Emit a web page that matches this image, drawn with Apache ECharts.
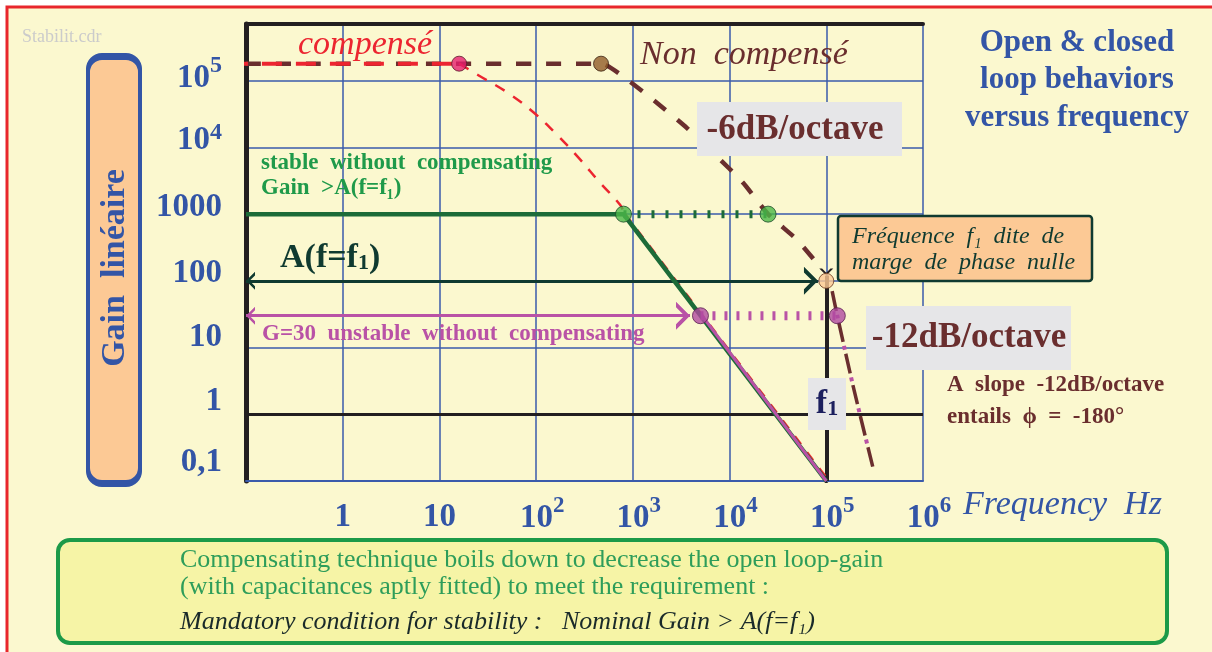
<!DOCTYPE html>
<html><head><meta charset="utf-8">
<script src="https://cdn.jsdelivr.net/npm/echarts@6/dist/echarts.min.js"></script>
<style>html,body{margin:0;padding:0;background:#fff}#c{width:1212px;height:652px}</style>
</head><body><div id="c"></div>
<script>
// ---------- data ----------
const yTickValues = [0.1, 1, 10, 100, 1000, 1e4, 1e5];
const yTickLabels = ['0,1', '1', '10', '100', '1000', '10^4', '10^5'];
const xTickValues = [1, 10, 100, 1e3, 1e4, 1e5, 1e6];
const xTickLabels = ['1', '10', '10^2', '10^3', '10^4', '10^5', '10^6'];

const compensePlateau = [[0.065, 1.8e5], [16, 1.8e5]];
const compenseRolloff = [[16, 1.8e5], [25, 1.22e5], [50, 6.7e4], [93, 3.4e4], [164, 1.55e4], [277, 6.9e3], [457, 2.96e3], [737, 1.38e3], [820, 1000]];
const compenseSlope = [[820, 1000], [1.05e5, 0.1]];
const nonCompense = [[0.1, 1.8e5], [469, 1.8e5], [830, 1.1e5], [1780, 4.64e4], [3630, 1.95e4], [7080, 7.8e3], [13800, 2.96e3], [25000, 1000], [50000, 410], [86000, 162]];
const nonCompense12 = [[1.15e5, 70], [1.3e5, 30], [1.9e5, 2.6], [3.05e5, 0.155]];
const stableGain = [[0.1, 1000], [800, 1000], [1e5, 0.1]];
const stableDotted = [[800, 1000], [25000, 1000]];
const unstableSlope = [[5200, 30], [1e5, 0.1]];
const unstableDotted = [[5000, 30], [1.3e5, 30]];
const arrowA = [[0.1, 100], [8.2e4, 100]];
const arrowG = [[0.1, 30], [3900, 30]];
const unityLine = [[0.1, 1], [1e6, 1]];
const f1Line = [[1e5, 120], [1e5, 0.1]];
const pinkDot = [[16, 1.8e5]];
const brownDot = [[469, 1.8e5]];
const greenDots = [[800, 1000], [25000, 1000]];
const magentaDots = [[5000, 30], [1.3e5, 30]];
const orangeDot = [[1e5, 100]];

// ---------- styles ----------
const SERIF = '"Liberation Serif", "DejaVu Serif", serif';
const BLUE = '#3355a6', GRID = '#3a5bab', RED = '#ec2530', BROWN = '#6a2e2e', GLINE = '#1c6b38',
  GTEXT = '#1f9a4a', MAG = '#b952a6', TEAL = '#0f3a30', BLACK = '#231f20', BG = '#fbf8cf',
  ORANGE = '#fcc995', GRAY = '#e6e6e8';
const chevUp = 'path://M0,20 L5,10 L10,20 L8,20 L5,14 L2,20 Z M5,0 L5.01,0 L5,0.01 Z';
const chevIn = 'path://M0,0 L5,10 L10,0 L8,0 L5,6 L2,0 Z M5,20 L5.01,20 L5,20.01 Z';

function lbl(arr, vals, v) {
  for (let i = 0; i < vals.length; i++) if (Math.abs(Math.log10(vals[i]) - Math.log10(v)) < 1e-6) return i;
  return -1;
}
const yShift = ['a', 'b', 'c', 'd', 'd', 'd', 'e'];

const chart = echarts.init(document.getElementById('c'));
const option = {
  backgroundColor: '#ffffff',
  animation: false,
  grid: { left: 246, top: 24, width: 677, height: 457, containLabel: false },
  xAxis: [{
    type: 'log', logBase: 10, min: 0.1, max: 1e6, position: 'bottom',
    axisLine: { show: true, lineStyle: { color: GRID, width: 2 } },
    axisTick: { show: false }, minorTick: { show: false },
    splitLine: { show: true, lineStyle: { color: GRID, width: 1.5 } },
    axisLabel: {
      margin: 14, showMinLabel: true,
      formatter: v => {
        const i = lbl(xTickLabels, xTickValues, v);
        if (i < 0) return '';
        const p = xTickLabels[i].split('^');
        return p.length > 1 ? '{bs|' + p[0] + '}{s|' + p[1] + '}' : '{b|' + p[0] + '}';
      },
      rich: {
        b: { fontFamily: SERIF, fontWeight: 'bold', fontSize: 33, color: BLUE, lineHeight: 44 },
        bs: { fontFamily: SERIF, fontWeight: 'bold', fontSize: 33, color: BLUE, lineHeight: 44, padding: [0, 0, 0, 12] },
        s: { fontFamily: SERIF, fontWeight: 'bold', fontSize: 23, color: BLUE, verticalAlign: 'top', padding: [0, 0, 24, 0] }
      }
    }
  }, {
    type: 'log', logBase: 10, min: 0.1, max: 1e6, position: 'top',
    axisLine: { show: true, lineStyle: { color: BLACK, width: 4 } },
    axisTick: { show: false }, axisLabel: { show: false }, splitLine: { show: false }
  }],
  yAxis: [{
    type: 'log', logBase: 10, min: 0.1, max: 708000,
    axisLine: { show: true, lineStyle: { color: BLACK, width: 5 } },
    axisTick: { show: false }, minorTick: { show: false },
    splitLine: { show: true, lineStyle: { color: GRID, width: 1.5 } },
    axisLabel: {
      margin: 24,
      formatter: v => {
        const i = lbl(yTickLabels, yTickValues, v);
        if (i < 0) return '';
        const p = yTickLabels[i].split('^');
        const k = yShift[i];
        return p.length > 1 ? '{' + k + '|' + p[0] + '}{s|' + p[1] + '}' : '{' + k + '|' + p[0] + '}';
      },
      rich: {
        a: { fontFamily: SERIF, fontWeight: 'bold', fontSize: 33, color: BLUE, padding: [0, 0, 38, 0] },
        b: { fontFamily: SERIF, fontWeight: 'bold', fontSize: 33, color: BLUE, padding: [0, 0, 26, 0] },
        c: { fontFamily: SERIF, fontWeight: 'bold', fontSize: 33, color: BLUE, padding: [0, 0, 20, 0] },
        d: { fontFamily: SERIF, fontWeight: 'bold', fontSize: 33, color: BLUE, padding: [0, 0, 14, 0] },
        e: { fontFamily: SERIF, fontWeight: 'bold', fontSize: 33, color: BLUE, padding: [0, 0, 4, 0] },
        s: { fontFamily: SERIF, fontWeight: 'bold', fontSize: 24, color: BLUE, verticalAlign: 'top', padding: [0, 0, 30, 0] }
      }
    }
  }],
  series: [
    { type: 'lines', coordinateSystem: 'cartesian2d', z: 3, silent: true,
      lineStyle: { color: BLACK, width: 3, opacity: 1 }, symbol: ['none', 'none'],
      data: [{ coords: unityLine }] },
    { type: 'lines', coordinateSystem: 'cartesian2d', z: 3, silent: true,
      lineStyle: { color: BLACK, width: 4, opacity: 1 }, symbol: [chevIn, chevIn], symbolSize: [14, 22],
      data: [{ coords: f1Line }] },
    { type: 'line', data: nonCompense, clip: false, smooth: 0.2, showSymbol: false, z: 4,
      lineStyle: { color: BROWN, width: 4.5, type: [15, 15] } },
    { type: 'line', data: nonCompense12, clip: false, smooth: 0.3, showSymbol: false, z: 4,
      lineStyle: { color: BROWN, width: 3.5, type: [20, 12] } },
    { type: 'line', data: nonCompense12, clip: false, smooth: 0.3, showSymbol: false, z: 4,
      lineStyle: { color: MAG, width: 4, type: [4, 28], dashOffset: 8 } },
    { type: 'line', data: compensePlateau, clip: false, showSymbol: false, z: 5,
      lineStyle: { color: RED, width: 4, type: [20, 14] } },
    { type: 'line', data: compenseRolloff, clip: false, smooth: 0.4, showSymbol: false, z: 5,
      lineStyle: { color: RED, width: 2.5, type: [11, 10] } },
    { type: 'line', data: compenseSlope, clip: false, showSymbol: false, z: 5,
      lineStyle: { color: RED, width: 3.5, type: [10, 10] } },
    { type: 'line', data: stableGain, clip: false, showSymbol: false, z: 6,
      lineStyle: { color: GLINE, width: 4.5 } },
    { type: 'line', data: unstableSlope, clip: false, showSymbol: false, z: 6,
      lineStyle: { color: MAG, width: 3 } },
    { type: 'line', data: stableDotted, clip: false, showSymbol: false, z: 6,
      lineStyle: { color: GLINE, width: 8, type: [3, 11] } },
    { type: 'line', data: unstableDotted, clip: false, showSymbol: false, z: 6,
      lineStyle: { color: MAG, width: 9, type: [3, 9] } },
    { type: 'lines', coordinateSystem: 'cartesian2d', z: 6, silent: true,
      lineStyle: { color: TEAL, width: 3, opacity: 1 }, symbol: [chevUp, chevUp], symbolSize: [18, 28],
      data: [{ coords: arrowA }] },
    { type: 'lines', coordinateSystem: 'cartesian2d', z: 6, silent: true,
      lineStyle: { color: MAG, width: 3, opacity: 1 }, symbol: [chevUp, chevUp], symbolSize: [18, 28],
      data: [{ coords: arrowG }] },
    { type: 'scatter', data: pinkDot, z: 8, symbolSize: 15, itemStyle: { color: '#e61f6e', borderColor: '#5a1a2a', borderWidth: 1 } },
    { type: 'scatter', data: brownDot, z: 8, symbolSize: 15, itemStyle: { color: '#915b28', borderColor: '#3a2010', borderWidth: 1 } },
    { type: 'scatter', data: greenDots, z: 8, symbolSize: 16, itemStyle: { color: '#4cb848', borderColor: '#1c4a28', borderWidth: 1 } },
    { type: 'scatter', data: magentaDots, z: 8, symbolSize: 16, itemStyle: { color: '#b04aa0', borderColor: '#5a2050', borderWidth: 1 } },
    { type: 'scatter', data: orangeDot, z: 8, symbolSize: 15, itemStyle: { color: ORANGE, borderColor: '#6a3a20', borderWidth: 1 } }
  ],
  graphic: [
    { type: 'rect', z: -10, shape: { x: 7, y: 7, width: 1230, height: 670 }, style: { fill: BG, stroke: '#e8262c', lineWidth: 3 } },
    { type: 'text', z: 1, x: 22, y: 37, style: { text: 'Stabilit.cdr', font: '18px ' + SERIF, fill: '#cbcbcb', verticalAlign: 'middle' } },
    { type: 'rect', z: 1, shape: { x: 88, y: 55, width: 52, height: 427, r: 14 }, style: { fill: ORANGE, stroke: BLUE, lineWidth: 4, shadowColor: BLUE, shadowOffsetY: 3, shadowBlur: 0 } },
    { type: 'text', z: 2, x: 115, y: 268, rotation: Math.PI / 2, style: { text: 'Gain  linéaire', font: 'bold 34px ' + SERIF, fill: BLUE, align: 'center', verticalAlign: 'middle' } },
    { type: 'text', z: 2, x: 1077, y: 80, style: { text: 'Open & closed\nloop behaviors\nversus frequency', font: 'bold 31px ' + SERIF, fill: BLUE, align: 'center', verticalAlign: 'middle', lineHeight: 37.5 } },
    { type: 'text', z: 20, x: 298, y: 45, style: { text: 'compensé', font: 'italic 34px ' + SERIF, fill: RED, verticalAlign: 'middle' } },
    { type: 'text', z: 20, x: 640, y: 55, style: { text: 'Non  compensé', font: 'italic 34px ' + SERIF, fill: BROWN, verticalAlign: 'middle' } },
    { type: 'rect', z: 20, shape: { x: 697, y: 102, width: 205, height: 54 }, style: { fill: GRAY } },
    { type: 'text', z: 21, x: 795, y: 130, style: { text: '-6dB/octave', font: 'bold 35px ' + SERIF, fill: BROWN, align: 'center', verticalAlign: 'middle' } },
    { type: 'text', z: 20, x: 261, y: 176, style: { text: 'stable  without  compensating\nGain  >A(f=f₁)', font: 'bold 23px ' + SERIF, fill: GTEXT, verticalAlign: 'middle', lineHeight: 25 } },
    { type: 'text', z: 20, x: 280, y: 258, style: { text: '{a|A(f=f}{b|1}{a|)}', verticalAlign: 'middle', rich: { a: { font: 'bold 34px ' + SERIF, fill: TEAL }, b: { font: 'bold 22px ' + SERIF, fill: TEAL, padding: [10, 0, 0, 0] } } } },
    { type: 'rect', z: 20, shape: { x: 838, y: 216, width: 254, height: 65, r: 3 }, style: { fill: ORANGE, stroke: TEAL, lineWidth: 2.5 } },
    { type: 'text', z: 21, x: 852, y: 250, style: { text: 'Fréquence  f₁  dite  de\nmarge  de  phase  nulle', font: 'italic 24px ' + SERIF, fill: TEAL, verticalAlign: 'middle', lineHeight: 26 } },
    { type: 'rect', z: 20, shape: { x: 866, y: 306, width: 205, height: 64 }, style: { fill: GRAY } },
    { type: 'text', z: 21, x: 969, y: 338, style: { text: '-12dB/octave', font: 'bold 35px ' + SERIF, fill: BROWN, align: 'center', verticalAlign: 'middle' } },
    { type: 'text', z: 20, x: 947, y: 401, style: { text: 'A  slope  -12dB/octave\nentails  ϕ  =  -180°', font: 'bold 23px ' + SERIF, fill: BROWN, verticalAlign: 'middle', lineHeight: 32 } },
    { type: 'rect', z: 20, shape: { x: 808, y: 378, width: 38, height: 52 }, style: { fill: GRAY } },
    { type: 'text', z: 21, x: 827, y: 404, style: { text: '{a|f}{b|1}', align: 'center', verticalAlign: 'middle', rich: { a: { font: 'bold 34px ' + SERIF, fill: '#1c1f5e' }, b: { font: 'bold 22px ' + SERIF, fill: '#1c1f5e', padding: [10, 0, 0, 0] } } } },
    { type: 'text', z: 20, x: 262, y: 334, style: { text: 'G=30  unstable  without  compensating', font: 'bold 23px ' + SERIF, fill: MAG, verticalAlign: 'middle' } },
    { type: 'text', z: 20, x: 963, y: 505, style: { text: 'Frequency  Hz', font: 'italic 34px ' + SERIF, fill: BLUE, verticalAlign: 'middle' } },
    { type: 'rect', z: 20, shape: { x: 58, y: 540, width: 1109, height: 103, r: 12 }, style: { fill: '#f6f4a6', stroke: '#1c9a48', lineWidth: 4 } },
    { type: 'text', z: 21, x: 180, y: 574, style: { text: 'Compensating technique boils down to decrease the open loop-gain\n(with capacitances aptly fitted) to meet the requirement :', font: '26px ' + SERIF, fill: '#2e9d5a', verticalAlign: 'middle', lineHeight: 27 } },
    { type: 'text', z: 21, x: 180, y: 622, style: { text: 'Mandatory condition for stability :   Nominal Gain > A(f=f₁)', font: 'italic 26px ' + SERIF, fill: '#1a2a2a', verticalAlign: 'middle' } }
  ]
};
chart.setOption(option);
</script>
</body></html>
